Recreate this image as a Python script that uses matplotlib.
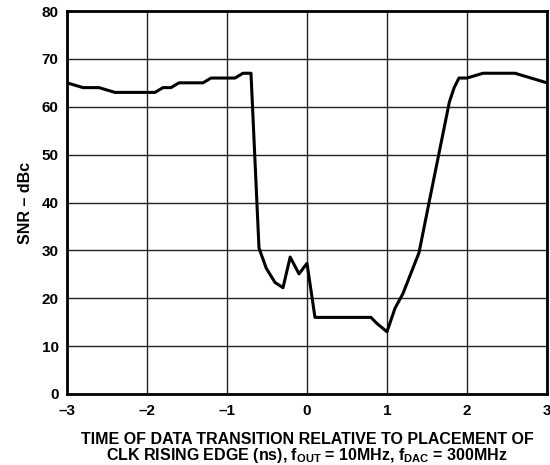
import matplotlib
matplotlib.use("Agg")
from matplotlib import pyplot as plt

plt.rcParams['font.family'] = ['Liberation Sans', 'DejaVu Sans']
plt.rcParams['font.weight'] = 'bold'
plt.rcParams['mathtext.fontset'] = 'custom'
plt.rcParams['mathtext.rm'] = 'Liberation Sans:bold'
plt.rcParams['mathtext.it'] = 'Liberation Sans:bold'
plt.rcParams['mathtext.bf'] = 'Liberation Sans:bold'

# SNR vs data transition time
time_ns = [-3.0, -2.8, -2.6, -2.4, -1.9, -1.8, -1.7, -1.6, -1.3, -1.2, -0.9, -0.8, -0.7,
           -0.6, -0.51, -0.4, -0.3, -0.21, -0.1, 0.0, 0.1, 0.8, 0.87, 1.0, 1.1, 1.2,
           1.4, 1.55, 1.78, 1.84, 1.9, 2.0, 2.2, 2.6, 3.0]
snr_dbc = [65, 64, 64, 63, 63, 64, 64, 65, 65, 66, 66, 67, 67,
           30.5, 26.3, 23.3, 22.2, 28.6, 25.1, 27.3, 16, 16, 14.8, 13, 17.9, 21,
           29.5, 42, 61, 64, 66, 66, 67, 67, 65]

x_ticks = [-3, -2, -1, 0, 1, 2, 3]
y_ticks = [0, 10, 20, 30, 40, 50, 60, 70, 80]

fig = plt.figure(figsize=(5.5, 4.65), dpi=100)
ax = fig.add_axes([0.1218, 0.1527, 0.8727, 0.8236])

ax.plot(time_ns, snr_dbc, color='black', linewidth=2.2, zorder=3)

ax.set_xlim(-3, 3)
ax.set_ylim(0, 80)
ax.set_xticks(x_ticks)
ax.set_yticks(y_ticks)
ax.set_xticklabels([str(t).replace('-', '\u2013') for t in x_ticks])
ax.grid(True, color='#222222', linewidth=1.0)
ax.set_axisbelow(True)
for s in ax.spines.values():
    s.set_linewidth(2.0)
ax.tick_params(length=0, labelsize=11)
ax.tick_params(axis='x', pad=7)
ax.tick_params(axis='y', pad=6)
for lbl in ax.get_xticklabels() + ax.get_yticklabels():
    lbl.set_fontweight('bold')

ax.set_ylabel('SNR \u2013 dBc', fontsize=11.5, fontweight='bold', labelpad=6)
ax.set_xlabel('TIME OF DATA TRANSITION RELATIVE TO PLACEMENT OF\n'
              'CLK RISING EDGE (ns), f$_{OUT}$ = 10MHz, f$_{DAC}$ = 300MHz',
              fontsize=11.5, fontweight='bold', labelpad=10, linespacing=0.95)

fig.savefig('out.png', dpi=100)
plt.close(fig)
